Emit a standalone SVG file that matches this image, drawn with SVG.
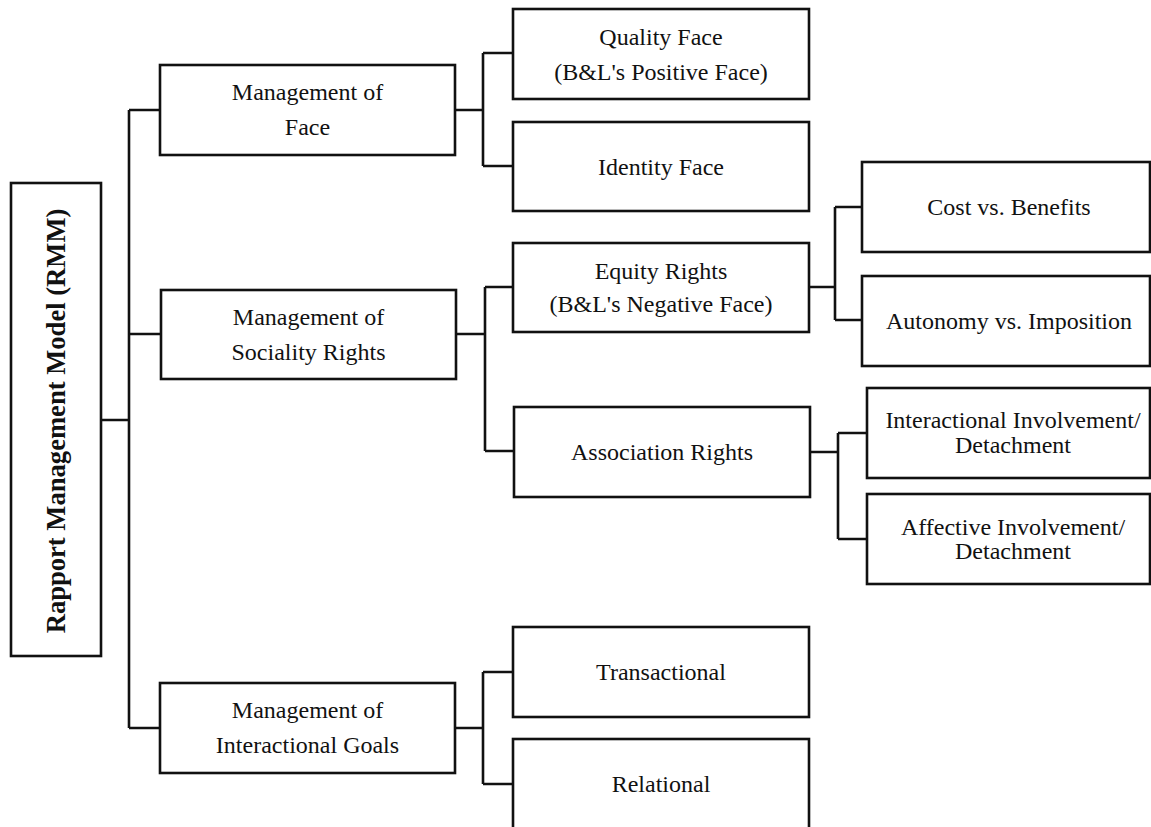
<svg xmlns="http://www.w3.org/2000/svg" width="1151" height="827" viewBox="0 0 1151 827">
<style>
.b{fill:#fff;stroke:#111;stroke-width:2.6}
.c{fill:none;stroke:#111;stroke-width:2.6}
.t{font-family:"Liberation Serif","Times New Roman",serif;font-size:24px;fill:#111;text-anchor:middle;dominant-baseline:central}
.r{font-weight:bold;font-size:26.6px}
</style>
<rect width="1151" height="827" fill="#fff"/>
<g id="connectors">
<path class="c" d="M101 420H129M129 110V728M129 110H160M129 334H161M129 728H160"/>
<path class="c" d="M455 110H483M483 53V166M483 53H513M483 166H513"/>
<path class="c" d="M456 334H485M485 287V451M485 287H513M485 451H514"/>
<path class="c" d="M809 287H835M835 207V320M835 207H862M835 320H862"/>
<path class="c" d="M810 452H838M838 433V539M838 433H867M838 539H867"/>
<path class="c" d="M455 728H483M483 672V784M483 672H513M483 784H513"/>
</g>
<g id="root"><rect class="b" x="11" y="183" width="90" height="473"/><text class="t r" transform="translate(56 421) rotate(-90)">Rapport Management Model (RMM)</text></g>
<g id="face"><rect class="b" x="160" y="65" width="295" height="90"/><text class="t" x="307.5" y="92">Management of</text><text class="t" x="307.5" y="127">Face</text></g>
<g id="sociality"><rect class="b" x="161" y="290" width="295" height="89"/><text class="t" x="308.5" y="317">Management of</text><text class="t" x="308.5" y="352">Sociality Rights</text></g>
<g id="goals"><rect class="b" x="160" y="683" width="295" height="90"/><text class="t" x="307.5" y="710">Management of</text><text class="t" x="307.5" y="745">Interactional Goals</text></g>
<g id="quality"><rect class="b" x="513" y="9" width="296" height="90"/><text class="t" x="661" y="37">Quality Face</text><text class="t" x="661" y="72">(B&amp;L's Positive Face)</text></g>
<g id="identity"><rect class="b" x="513" y="122" width="296" height="89"/><text class="t" x="661" y="167">Identity Face</text></g>
<g id="equity"><rect class="b" x="513" y="243" width="296" height="89"/><text class="t" x="661" y="271">Equity Rights</text><text class="t" x="661" y="304">(B&amp;L's Negative Face)</text></g>
<g id="association"><rect class="b" x="514" y="407" width="296" height="90"/><text class="t" x="662" y="452">Association Rights</text></g>
<g id="transactional"><rect class="b" x="513" y="627" width="296" height="90"/><text class="t" x="661" y="672">Transactional</text></g>
<g id="relational"><rect class="b" x="513" y="739" width="296" height="90"/><text class="t" x="661" y="784">Relational</text></g>
<g id="cost"><rect class="b" x="862" y="162" width="288" height="90"/><text class="t" x="1009" y="207">Cost vs. Benefits</text></g>
<g id="autonomy"><rect class="b" x="862" y="276" width="288" height="90"/><text class="t" x="1009" y="321">Autonomy vs. Imposition</text></g>
<g id="interactional"><rect class="b" x="867" y="388" width="283" height="90"/><text class="t" x="1013" y="420">Interactional Involvement/</text><text class="t" x="1013" y="445">Detachment</text></g>
<g id="affective"><rect class="b" x="867" y="494" width="283" height="90"/><text class="t" x="1013" y="527">Affective Involvement/</text><text class="t" x="1013" y="551">Detachment</text></g>
</svg>
